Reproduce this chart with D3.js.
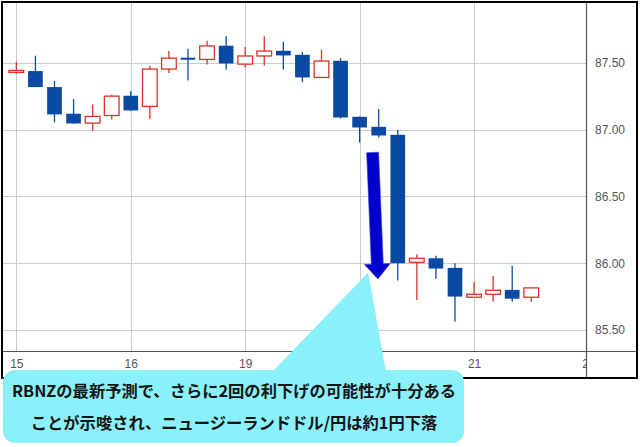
<!DOCTYPE html>
<html>
<head>
<meta charset="utf-8">
<script src="https://cdn.jsdelivr.net/npm/d3@7"></script>
<style>
  html, body { margin: 0; padding: 0; background: #fff; }
  svg { display: block; }
</style>
</head>
<body>
<svg id="chart" width="640" height="447"></svg>
<script>
// 4-hour candles, NZD/JPY
const candleIndex = d3.range(28);
const openVals  = [87.43, 87.44, 87.32, 87.12, 87.05, 87.107, 87.255, 87.175, 87.455, 87.54, 87.527, 87.63, 87.492, 87.553, 87.592, 87.562, 87.392, 87.517, 87.097, 87.022, 86.962, 86.007, 86.037, 85.965, 85.745, 85.767, 85.80, 85.745];
const highVals  = [87.51, 87.555, 87.367, 87.23, 87.19, 87.262, 87.29, 87.48, 87.59, 87.607, 87.667, 87.70, 87.62, 87.70, 87.66, 87.583, 87.60, 87.537, 87.10, 87.155, 87.0, 86.067, 86.055, 86.0, 85.86, 85.905, 85.98, 85.815];
const lowVals   = [87.42, 87.32, 87.055, 87.045, 86.99, 87.077, 87.14, 87.08, 87.425, 87.37, 87.49, 87.45, 87.467, 87.48, 87.452, 87.357, 87.39, 87.084, 86.904, 86.942, 85.87, 85.724, 85.884, 85.562, 85.745, 85.712, 85.712, 85.712];
const closeVals = [87.445, 87.32, 87.115, 87.047, 87.10, 87.252, 87.145, 87.455, 87.537, 87.525, 87.628, 87.497, 87.553, 87.59, 87.557, 87.392, 87.515, 87.092, 87.017, 86.957, 86.0, 86.037, 85.96, 85.75, 85.767, 85.797, 85.734, 85.815];

const xTickIndex  = [0, 6, 12, 18, 24, 30];
const xTickLabels = ["15", "16", "19", "20", "21", "22"];
const yTickValues = [85.5, 86.0, 86.5, 87.0, 87.5];

const calloutLines = [
  "RBNZの最新予測で、さらに2回の利下げの可能性が十分ある",
  "ことが示唆され、ニュージーランドドル/円は約1円下落"
];

const candles = candleIndex.map(i => ({
  i, o: openVals[i], h: highVals[i], l: lowVals[i], c: closeVals[i]
}));

const svg = d3.select("#chart");
const plot = { left: 3, right: 586, top: 3, bottom: 351 };

const x = d3.scaleLinear().domain([-0.7, 29.87]).range([plot.left, plot.right]);
const y = d3.scaleLinear().domain([85.342, 87.95]).range([plot.bottom, plot.top]);

const RED = "#d9342b", BLUE = "#0b4aa2", GRID = "#cccccc", AXIS = "#555555";

svg.append("rect").attr("width", 640).attr("height", 447).attr("fill", "#fff");

const defs = svg.append("defs");
defs.append("clipPath").attr("id", "plotClip")
  .append("rect").attr("x", plot.left).attr("y", plot.top)
  .attr("width", plot.right - plot.left).attr("height", plot.bottom - plot.top);
defs.append("clipPath").attr("id", "xAxisClip")
  .append("rect").attr("x", plot.left).attr("y", plot.bottom)
  .attr("width", plot.right - plot.left).attr("height", 30);

// grid
const grid = svg.append("g").attr("clip-path", "url(#plotClip)");
grid.selectAll("line.h").data(yTickValues).join("line")
  .attr("x1", plot.left).attr("x2", plot.right)
  .attr("y1", d => Math.round(y(d)) + 0.5).attr("y2", d => Math.round(y(d)) + 0.5)
  .attr("stroke", GRID).attr("stroke-width", 1);
grid.selectAll("line.v").data(xTickIndex).join("line")
  .attr("y1", plot.top).attr("y2", plot.bottom)
  .attr("x1", d => Math.round(x(d)) + 0.5).attr("x2", d => Math.round(x(d)) + 0.5)
  .attr("stroke", GRID).attr("stroke-width", 1);

// candles
const bodyW = (x(1) - x(0)) * 0.77;
const cg = svg.append("g").attr("clip-path", "url(#plotClip)");
const cs = cg.selectAll("g.candle").data(candles).join("g");
cs.append("line")
  .attr("x1", d => x(d.i)).attr("x2", d => x(d.i))
  .attr("y1", d => y(d.h)).attr("y2", d => y(d.l))
  .attr("stroke", d => d.c >= d.o ? RED : BLUE)
  .attr("stroke-width", 1.3);
cs.append("rect")
  .attr("x", d => x(d.i) - bodyW / 2)
  .attr("width", bodyW)
  .attr("y", d => y(Math.max(d.o, d.c)))
  .attr("height", d => Math.max(1.5, Math.abs(y(d.o) - y(d.c))))
  .attr("fill", d => d.c >= d.o ? "#ffffff" : BLUE)
  .attr("stroke", d => d.c >= d.o ? RED : "none")
  .attr("stroke-width", 1.3);

// axes
const yAxis = d3.axisRight(y).tickValues(yTickValues).tickFormat(d3.format(".2f")).tickSize(0).tickPadding(9);
const yg = svg.append("g").attr("transform", `translate(${plot.right},0)`).call(yAxis);
yg.select(".domain").remove();
yg.selectAll("text").attr("fill", AXIS).attr("font-family", "Liberation Sans, Arial, sans-serif").attr("font-size", 12);

const xAxis = d3.axisBottom(x).tickValues(xTickIndex).tickFormat((d, k) => xTickLabels[k]).tickSize(0).tickPadding(8);
const xWrap = svg.append("g").attr("clip-path", "url(#xAxisClip)");
const xg = xWrap.append("g").attr("transform", `translate(0,${plot.bottom})`).call(xAxis);
xg.select(".domain").remove();
xg.selectAll("text").attr("fill", AXIS).attr("font-family", "Liberation Sans, Arial, sans-serif").attr("font-size", 12);

svg.append("line").attr("x1", 3).attr("x2", 637).attr("y1", plot.bottom + 0.5).attr("y2", plot.bottom + 0.5)
  .attr("stroke", AXIS).attr("stroke-width", 1.2);
svg.append("line").attr("x1", plot.right + 0.5).attr("x2", plot.right + 0.5).attr("y1", 3).attr("y2", 378)
  .attr("stroke", AXIS).attr("stroke-width", 1.2);

// frame
svg.append("rect").attr("x", 2).attr("y", 2).attr("width", 635).attr("height", 376)
  .attr("fill", "none").attr("stroke", "#000").attr("stroke-width", 2);

// arrow annotation (in data space)
const arrowFrom = { i: 18.68, v: 86.83 };
const arrowTo = { i: 18.96, v: 85.882 };
(function drawArrow() {
  const T = [x(arrowFrom.i), y(arrowFrom.v)], P = [x(arrowTo.i), y(arrowTo.v)];
  const len = Math.hypot(P[0] - T[0], P[1] - T[1]);
  const d = [(P[0] - T[0]) / len, (P[1] - T[1]) / len];
  const n = [-d[1], d[0]];
  const headLen = 15, shaftHalf = 6, headHalf = 13;
  const B = [P[0] - d[0] * headLen, P[1] - d[1] * headLen];
  const pt = (p, k) => [p[0] + n[0] * k, p[1] + n[1] * k];
  const pts = [pt(T, -shaftHalf), pt(T, shaftHalf), pt(B, shaftHalf), pt(B, headHalf), P, pt(B, -headHalf), pt(B, -shaftHalf)];
  svg.append("polygon").attr("points", pts.map(p => p.join(",")).join(" "))
    .attr("fill", "#0000cd").attr("stroke", "#3a3ae0").attr("stroke-width", 0.6);
})();

// callout
const CYAN = "#8af0f9";
const callout = svg.append("g");
callout.append("polygon")
  .attr("points", [[272, 372], [x(18.45), y(85.93)], [386, 372]].map(p => p.join(",")).join(" "))
  .attr("fill", CYAN);
callout.append("rect").attr("x", 3).attr("y", 370).attr("width", 461).attr("height", 73).attr("rx", 12)
  .attr("fill", CYAN);
callout.selectAll("text").data(calloutLines).join("text")
  .attr("x", 234).attr("y", (d, k) => 397 + k * 32)
  .attr("text-anchor", "middle")
  .attr("font-family", "Noto Sans CJK JP, sans-serif")
  .attr("font-weight", "bold")
  .attr("font-size", 16.3)
  .attr("fill", "#151515")
  .text(d => d);
</script>
</body>
</html>
